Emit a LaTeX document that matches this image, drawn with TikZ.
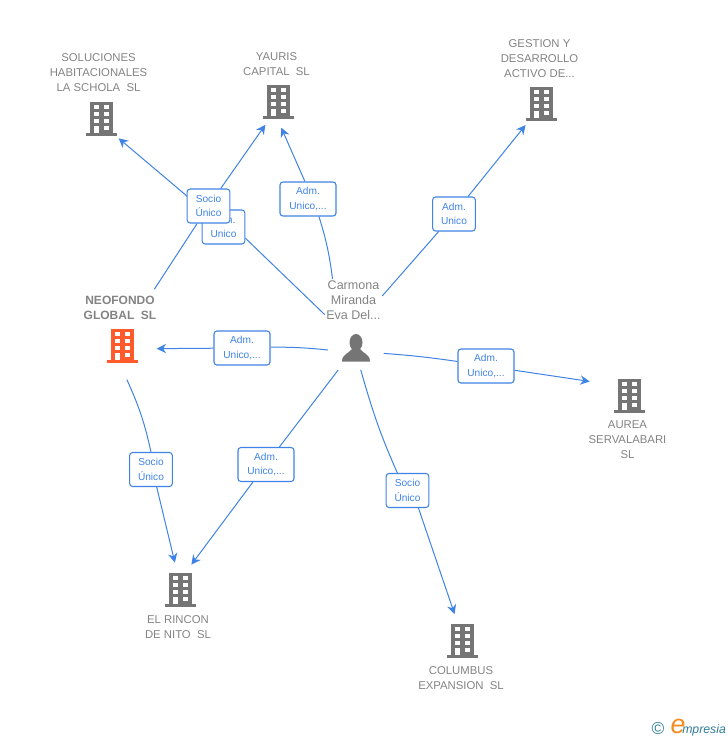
\documentclass[tikz,border=0pt]{standalone}
\usepackage{fontspec}
\setmainfont{Liberation Sans}
\usetikzlibrary{arrows.meta,backgrounds}
\definecolor{linkblue}{HTML}{3F83E4}
\definecolor{bldgrey}{HTML}{757575}
\definecolor{bldorange}{HTML}{FF5A2B}
\definecolor{labelgrey}{HTML}{838383}
\definecolor{logoteal}{HTML}{2F7C96}
\definecolor{logoorange}{HTML}{F58A1F}
\tikzset{
  linkline/.style={draw=linkblue,line width=0.75pt},
  linkarrow/.style={linkline,-{Stealth[length=7pt,width=7pt]}},
  relbox/.style={draw=linkblue,line width=0.8pt,fill=white,rounded corners=2.2pt,text=linkblue,
    font=\fontsize{7.6}{11}\selectfont,align=center,minimum height=25.5pt,inner sep=0pt},
  relsocio/.style={relbox,minimum width=32pt},
  reladm/.style={relbox,minimum width=42pt},
  bldnode/.style={circle,minimum size=40pt,inner sep=0pt},
  namelabel/.style={text=labelgrey,font=\fontsize{8.5}{11.2}\selectfont,align=center,inner sep=1pt},
  pics/bldg/.style={code={
    \fill[#1] (-11.5,-16) rectangle (11.5,15);
    \fill[#1] (-15.5,15) rectangle (15.5,18);
    \fill[white] (-7,-13) rectangle (-2,-9);
    \fill[white] (3,-13) rectangle (8,-9);
    \fill[white] (-7,-6) rectangle (-2,-2);
    \fill[white] (3,-6) rectangle (8,-2);
    \fill[white] (-7,1) rectangle (-2,5);
    \fill[white] (3,1) rectangle (8,5);
    \fill[white] (-7,8) rectangle (-2,15);
    \fill[white] (3,8) rectangle (8,12);
  }}
}
\begin{document}
\begin{tikzpicture}[x=0.75pt,y=-0.75pt]
  \useasboundingbox (0,0) rectangle (728,740);

  \node[bldnode] (bldSol) at (101,118) {};
  \node[bldnode] (bldYau) at (278,101) {};
  \node[bldnode] (bldGes) at (541,103) {};
  \node[bldnode,minimum size=52pt] (bldNeo) at (122,345) {};
  \node[bldnode,minimum size=62pt] (bldAur) at (629,395) {};
  \node[bldnode] (bldRin) at (180,589) {};
  \node[bldnode] (bldCol) at (462,640) {};

  \pic at (bldSol) {bldg=bldgrey};
  \pic at (bldYau) {bldg=bldgrey};
  \pic at (bldGes) {bldg=bldgrey};
  \pic at (bldNeo) {bldg=bldorange};
  \pic at (bldAur) {bldg=bldgrey};
  \pic at (bldRin) {bldg=bldgrey};
  \pic at (bldCol) {bldg=bldgrey};

  \node[namelabel] (txtSol) at (98.5,72.5) {SOLUCIONES\\HABITACIONALES\\LA SCHOLA\ \ SL};
  \node[namelabel] (txtYau) at (276.5,64) {YAURIS\\CAPITAL\ \ SL};
  \node[namelabel] (txtGes) at (539.5,58.5) {GESTION Y\\DESARROLLO\\ACTIVO DE...};
  \node[namelabel,font=\fontsize{9}{11.2}\selectfont\bfseries,minimum height=27pt] (txtNeo) at (120,307.5) {NEOFONDO\\GLOBAL\ \ SL};
  \node[namelabel] (txtAur) at (627.5,439.5) {AUREA\\SERVALABARI\\SL};
  \node[namelabel] (txtRin) at (178,627) {EL RINCON\\DE NITO\ \ SL};
  \node[namelabel] (txtCol) at (461,678) {COLUMBUS\\EXPANSION\ \ SL};

  \node[circle,minimum size=42pt,inner sep=0pt] (pers) at (356,348) {};
  \fill[bldgrey] (356,342.5) ellipse (6.5 and 8.5);
  \fill[bldgrey] (342,361.5) .. controls (342,354) and (349,353.5) .. (352,349) -- (360,349)
    .. controls (363,353.5) and (370,354) .. (370,361.5) -- cycle;
  \node[namelabel,font=\fontsize{9.4}{11.2}\selectfont] (txtPers) at (353.5,300) {Carmona\\Miranda\\Eva Del...};

  \node[relsocio] (relAdmB) at (223.5,227) {Adm.\\Unico};
  \node[relsocio] (relSocA) at (208.5,206) {Socio\\Único};
  \node[reladm] (relAdmA) at (308,199) {Adm.\\Unico,...};
  \node[relsocio] (relAdmG) at (454,214) {Adm.\\Unico};
  \node[reladm] (relAdmN) at (242,348) {Adm.\\Unico,...};
  \node[reladm] (relAdmU) at (486,366) {Adm.\\Unico,...};
  \node[relsocio] (relSocR) at (151,469.5) {Socio\\Único};
  \node[reladm] (relAdmR) at (266,464.5) {Adm.\\Unico,...};
  \node[relsocio] (relSocC) at (407.5,490.5) {Socio\\Único};

  \begin{scope}[on background layer]
    \draw[linkline] (txtNeo.28) -- (relSocA);
    \draw[linkarrow] (relSocA) -- (bldYau.-118);

    \draw[linkline] (txtPers.207) -- (relAdmB.-27);
    \draw[linkarrow] (relAdmB) -- (bldSol.-49);

    \draw[linkline] (txtPers.135) to[bend right=5] (relAdmA.-58);
    \draw[linkarrow] (relAdmA.100) -- (bldYau.-83);

    \draw[linkline] (txtPers.8) -- (relAdmG);
    \draw[linkarrow] (relAdmG) -- (bldGes.-125);

    \draw[linkline] (pers.184) to[bend right=3] (relAdmN);
    \draw[linkarrow] (relAdmN) -- (bldNeo.-6);

    \draw[linkline] (pers.-11) to[bend left=2] (relAdmU);
    \draw[linkarrow] (relAdmU) -- (bldAur.161);

    \draw[linkline] (bldNeo.-82) to[bend left=6] (relSocR.90);
    \draw[linkarrow] (relSocR.-72) -- (bldRin.101);

    \draw[linkline] (pers.-129) -- (relAdmR);
    \draw[linkarrow] (relAdmR) -- (bldRin.65);

    \draw[linkline,shorten <=-4.5pt] (pers.-77) to[bend right=4] (relSocC.120);
    \draw[linkarrow] (relSocC.-58) -- (bldCol.106);
  \end{scope}

  \node[text=logoteal,font=\fontsize{13}{13}\selectfont,inner sep=0pt] (logoC) at (658,729) {©};
  \node[text=logoorange,font=\fontsize{20}{20}\selectfont\itshape,inner sep=0pt] (logoE) at (678,726) {e};
  \node[text=logoteal,font=\fontsize{9.2}{10}\selectfont\itshape,inner sep=0pt,anchor=west] (logoT) at (682,730) {mpresia};
\end{tikzpicture}
\end{document}
